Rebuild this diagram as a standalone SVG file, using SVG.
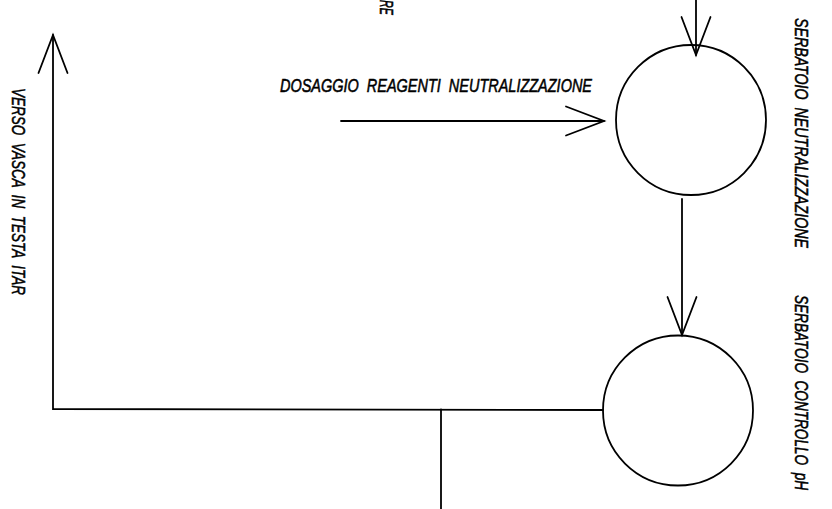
<svg xmlns="http://www.w3.org/2000/svg" width="832" height="509" viewBox="0 0 832 509">
<style>
.ln{fill:none;stroke:#000;stroke-width:1.8;stroke-linecap:round}
.tank{fill:none;stroke:#000;stroke-width:1.8}
.lbl{font-family:"Liberation Sans",Arial,sans-serif;font-style:italic;font-size:19px;fill:#000;stroke:#000;stroke-width:0.55}
</style>
<defs>
<marker id="arr" markerUnits="userSpaceOnUse" viewBox="-45 -20 50 40" markerWidth="50" markerHeight="40" refX="0" refY="0" orient="auto" overflow="visible">
<path d="M-38,-14.5 L0,0 L-38,14.5" fill="none" stroke="#000" stroke-width="1.8" stroke-linecap="round"/>
</marker>
</defs>
<rect width="832" height="509" fill="#fff"/>
<g id="connectors">
<line class="ln" x1="696" y1="0" x2="696" y2="55" marker-end="url(#arr)"/>
<line class="ln" x1="341" y1="121" x2="604" y2="121" marker-end="url(#arr)"/>
<line class="ln" x1="682" y1="199" x2="682" y2="335" marker-end="url(#arr)"/>
<polyline class="ln" points="603,410 53,409 53,35" marker-end="url(#arr)"/>
<line class="ln" x1="441" y1="409.5" x2="441" y2="509"/>
</g>
<g id="tank-neutralizzazione">
<circle class="tank" cx="691" cy="120" r="75"/>
<text class="lbl" transform="translate(795,18) rotate(90)" textLength="230" lengthAdjust="spacingAndGlyphs" xml:space="preserve">SERBATOIO  NEUTRALIZZAZIONE</text>
</g>
<g id="tank-controllo-ph">
<circle class="tank" cx="678" cy="410.5" r="75"/>
<text class="lbl" transform="translate(795,295) rotate(90)" textLength="195" lengthAdjust="spacingAndGlyphs" xml:space="preserve">SERBATOIO  CONTROLLO  pH</text>
</g>
<g id="label-dosaggio">
<text class="lbl" x="280" y="92" textLength="312" lengthAdjust="spacingAndGlyphs" xml:space="preserve">DOSAGGIO  REAGENTI  NEUTRALIZZAZIONE</text>
</g>
<g id="label-verso">
<text class="lbl" transform="translate(12,88) rotate(90)" textLength="207" lengthAdjust="spacingAndGlyphs" xml:space="preserve">VERSO  VASCA  IN  TESTA  ITAR</text>
</g>
<g id="label-top">
<text class="lbl" transform="translate(380,15) rotate(90)" text-anchor="end" textLength="15" lengthAdjust="spacingAndGlyphs">RE</text>
</g>
</svg>
